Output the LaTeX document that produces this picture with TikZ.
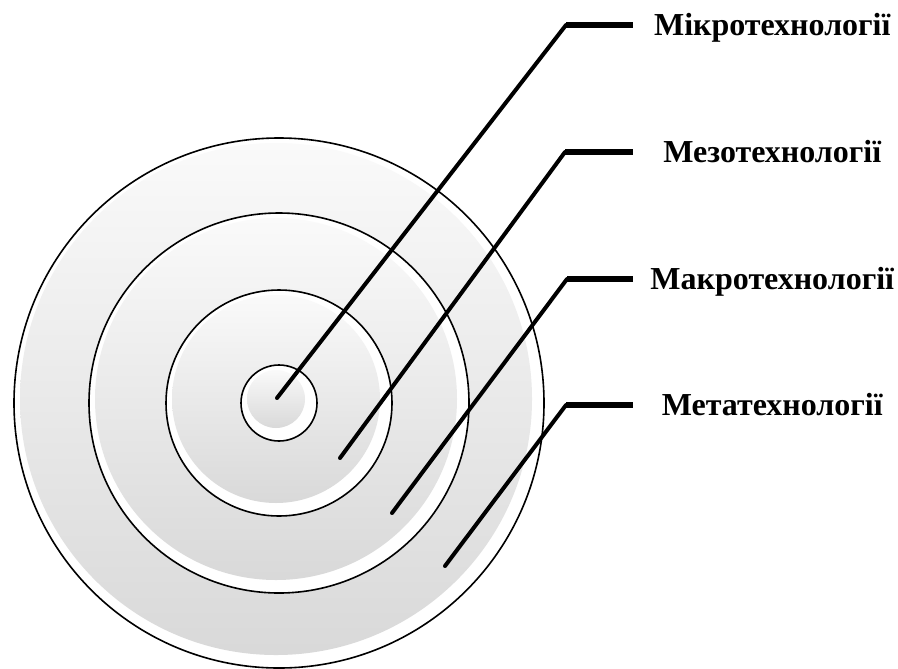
\documentclass[tikz,border=0pt]{standalone}
\usepackage{fontspec}
\setmainfont{Liberation Serif}
\usetikzlibrary{calc, positioning}

\begin{document}
\begin{tikzpicture}[x=0.75pt, y=-0.75pt,
    ring/.style={draw=black, line width=1.2pt},
    leader/.style={line width=3pt, line cap=round},
    arm/.style={line width=4.2pt},
    level/.style={inner sep=0pt, anchor=west, minimum width=208.5pt, text height=16pt, text depth=0pt, font=\fontsize{24}{28}\selectfont\bfseries}]
    \useasboundingbox (0,0) rectangle (898,668);

    % Target rings
    \coordinate (c) at (279,403);
    \foreach \r in {265,190,113,38} {
        \fill[white] (c) circle (\r);
        \shade[top color=gray!4, bottom color=gray!30] ($(c)+(-3,-4)$) circle ({\r-9});
        \draw[ring] (c) circle (\r);
    }

    % Labels
    \node[level] (mikro) at (633,25) {Мікротехнології};
    \node[level] (mezo) at (633,152) {Мезотехнології};
    \node[level] (makro) at (633,279) {Макротехнології};
    \node[level] (meta) at (633,405) {Метатехнології};

    % Points inside the rings and bends
    \coordinate (mikro-pt) at (277,398);
    \coordinate (mezo-pt) at (340,458);
    \coordinate (makro-pt) at (392,513);
    \coordinate (meta-pt) at (445,566);
    \coordinate (mikro-bend) at (566,25);
    \coordinate (mezo-bend) at (565,152);
    \coordinate (makro-bend) at (567,279);
    \coordinate (meta-bend) at (566,405);

    % Draw leaders
    \draw[leader] (mikro-pt) -- (mikro-bend);
    \draw[arm] (mikro-bend) -- (mikro.west);
    \draw[leader] (mezo-pt) -- (mezo-bend);
    \draw[arm] (mezo-bend) -- (mezo.west);
    \draw[leader] (makro-pt) -- (makro-bend);
    \draw[arm] (makro-bend) -- (makro.west);
    \draw[leader] (meta-pt) -- (meta-bend);
    \draw[arm] (meta-bend) -- (meta.west);
\end{tikzpicture}
\end{document}
